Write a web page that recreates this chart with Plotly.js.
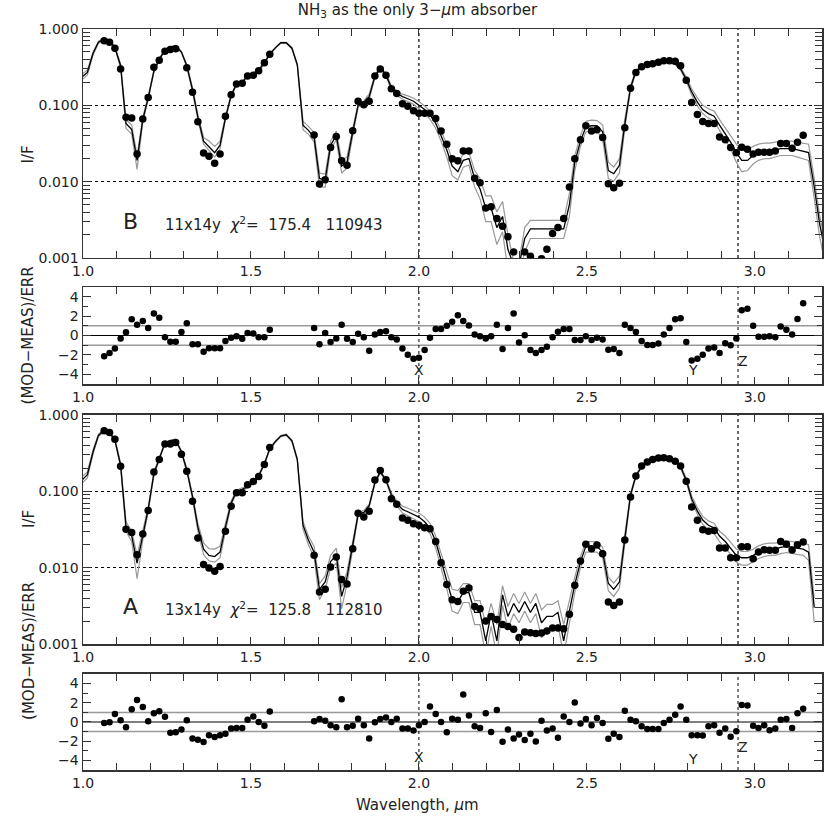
<!DOCTYPE html>
<html>
<head>
<meta charset="utf-8">
<script src="https://cdn.plot.ly/plotly-3.0.1.min.js"></script>
<style>html,body{margin:0;padding:0;background:#fff;}#chart{width:830px;height:830px;}</style>
</head>
<body>
<div id="chart"></div>
<script>
// Wavelength grid (micron)
const wl = [0.997,1.013,1.030,1.046,
1.063,1.079,1.095,1.112,1.128,1.145,1.161,1.178,1.194,1.211,
1.227,1.244,1.260,1.276,1.293,1.309,1.326,1.342,1.359,1.375,
1.392,1.408,1.424,1.441,1.457,1.474,1.490,1.507,1.523,1.540,
1.556,1.573,1.589,1.605,1.622,1.638,1.655,1.671,1.688,1.704,
1.721,1.737,1.754,1.770,1.786,1.803,1.819,1.836,1.852,1.869,
1.885,1.902,1.918,1.934,1.951,1.967,1.984,2.000,2.017,2.033,
2.050,2.066,2.083,2.099,2.116,2.132,2.149,2.166,2.182,2.199,
2.215,2.232,2.249,2.265,2.282,2.298,2.315,2.332,2.348,2.365,
2.381,2.398,2.414,2.431,2.448,2.464,2.481,2.497,2.514,2.530,
2.547,2.564,2.580,2.597,2.613,2.630,2.646,2.663,2.680,2.696,
2.713,2.729,2.746,2.763,2.779,2.796,2.812,2.829,2.845,2.862,
2.879,2.895,2.912,2.928,2.945,2.961,2.978,2.995,3.011,3.028,
3.044,3.061,3.077,3.094,3.111,3.127,3.144,3.160,3.177,3.193,
3.210];

// Panel B (11x14y) model, envelope and measurements (I/F)
const bModel = [0.235,0.27,0.48,0.67,
0.74,0.70,0.57,0.33,0.058,0.048,0.019,0.065,0.125,0.28,
0.40,0.53,0.58,0.60,0.50,0.33,0.16,0.07,0.034,0.029,
0.024,0.030,0.068,0.135,0.19,0.20,0.245,0.26,0.29,0.36,
0.47,0.57,0.66,0.66,0.56,0.34,0.055,0.047,0.038,0.011,
0.0105,0.030,0.040,0.016,0.018,0.045,0.10,0.11,0.13,0.24,
0.31,0.25,0.17,0.145,0.13,0.122,0.113,0.10,0.088,0.075,
0.058,0.040,0.026,0.016,0.0135,0.019,0.020,0.011,0.008,0.0045,
0.0045,0.0025,0.0035,0.0013,0.0008,0.0008,0.0018,0.0024,0.0024,0.0024,
0.0024,0.0024,0.0024,0.0024,0.005,0.018,0.034,0.052,0.054,0.054,
0.045,0.014,0.0127,0.0164,0.057,0.17,0.28,0.32,0.34,0.355,
0.37,0.375,0.37,0.35,0.30,0.22,0.15,0.11,0.088,0.078,
0.072,0.055,0.043,0.033,0.024,0.019,0.019,0.022,0.024,0.025,
0.025,0.026,0.027,0.027,0.027,0.026,0.025,0.024,0.0085,0.0028,
0.0012];
const bUpper = [0.255,0.29,0.50,0.69,
0.76,0.72,0.59,0.35,0.065,0.055,0.022,0.07,0.13,0.29,
0.41,0.54,0.59,0.61,0.51,0.34,0.17,0.075,0.038,0.034,
0.029,0.034,0.072,0.14,0.195,0.205,0.25,0.265,0.30,0.37,
0.48,0.58,0.67,0.67,0.57,0.35,0.062,0.053,0.044,0.013,
0.0125,0.034,0.046,0.019,0.021,0.05,0.105,0.115,0.14,0.25,
0.32,0.26,0.18,0.155,0.14,0.133,0.124,0.112,0.098,0.084,
0.066,0.046,0.031,0.020,0.017,0.023,0.024,0.014,0.011,0.0065,
0.0065,0.004,0.0055,0.002,0.0009,0.0009,0.0025,0.0031,0.0031,0.0031,
0.0031,0.0031,0.0031,0.0031,0.007,0.022,0.04,0.062,0.064,0.063,
0.055,0.018,0.0155,0.02,0.066,0.18,0.29,0.33,0.35,0.365,
0.38,0.385,0.38,0.36,0.315,0.235,0.165,0.125,0.10,0.09,
0.084,0.065,0.05,0.04,0.031,0.026,0.026,0.029,0.031,0.032,
0.032,0.033,0.034,0.034,0.034,0.033,0.032,0.031,0.011,0.0036,
0.0016];
const bLower = [0.215,0.25,0.46,0.65,
0.72,0.68,0.55,0.31,0.05,0.042,0.0145,0.06,0.12,0.27,
0.39,0.52,0.57,0.59,0.49,0.32,0.15,0.065,0.031,0.026,
0.021,0.027,0.065,0.13,0.185,0.195,0.24,0.255,0.28,0.35,
0.46,0.56,0.65,0.65,0.55,0.33,0.048,0.042,0.033,0.0085,
0.0085,0.027,0.035,0.013,0.015,0.04,0.095,0.105,0.12,0.23,
0.30,0.24,0.16,0.135,0.12,0.112,0.103,0.09,0.078,0.066,
0.05,0.034,0.021,0.012,0.0105,0.0155,0.0165,0.0085,0.006,0.003,
0.003,0.0015,0.0022,0.0007,0.0006,0.0006,0.0012,0.0018,0.0018,0.0018,
0.0018,0.0018,0.0018,0.0018,0.0035,0.014,0.029,0.045,0.046,0.046,
0.036,0.011,0.0102,0.013,0.05,0.16,0.27,0.31,0.33,0.345,
0.36,0.365,0.36,0.34,0.29,0.205,0.137,0.098,0.078,0.068,
0.062,0.047,0.036,0.027,0.018,0.0135,0.014,0.017,0.019,0.02,
0.02,0.021,0.022,0.022,0.022,0.021,0.020,0.019,0.006,0.0019,
0.0008];
const bMeas = [null,null,null,null,
0.70,0.67,0.56,0.30,0.070,0.068,0.023,0.066,0.127,0.315,
0.39,0.51,0.54,0.55,null,0.31,0.148,0.061,0.0238,0.0215,
0.0174,0.023,0.072,0.138,0.19,0.194,0.242,0.247,0.284,0.362,
0.466,null,null,null,null,null,null,null,0.041,0.0093,
0.0106,0.028,0.039,0.0188,0.0164,0.0466,0.113,0.102,0.113,0.242,
0.30,0.247,0.165,0.143,0.105,0.097,0.085,0.0785,0.0785,0.079,
0.067,0.046,0.031,0.020,0.0188,0.0252,0.0252,0.0111,0.0097,0.0045,
0.0047,0.0033,0.0026,0.0019,0.0012,0.0008,0.0012,0.00105,0.0008,0.00098,
0.0013,0.0021,0.0025,0.0033,0.0085,0.020,0.0355,0.054,0.046,0.048,
0.038,0.0094,0.0083,0.0095,0.051,0.167,0.27,0.32,0.342,0.35,
0.366,0.385,0.385,0.378,0.33,0.213,0.109,0.076,0.0615,0.058,
0.058,0.0385,0.0355,0.028,0.024,0.0283,0.0265,0.023,0.0243,0.0243,
0.0243,0.0252,0.0315,0.0315,0.0274,0.0328,0.0404,null,null,null,
null];
const bResid = [null,null,null,null,
-2.13,-1.8,-1.33,-0.3,0.33,1.67,1.1,1.5,0.77,2.27,
1.83,-0.17,-0.63,-0.63,0.37,1.27,-0.9,-0.9,-1.67,-1.3,
-1.3,-1.3,-0.57,-0.23,-0.07,-0.33,0.27,0.2,-0.17,-0.17,
0.6,null,null,null,null,null,null,null,0.77,-0.9,
0.27,-0.67,-0.3,1.1,-0.33,-0.67,0.17,-0.17,-1.57,0.1,
0.37,0.43,-0.17,-0.4,-1.33,-1.97,-2.4,-2.3,-1.5,-0.23,
0.67,0.67,1.0,1.43,2.1,1.5,1.03,0.1,-0.07,-0.3,
-0.07,1.1,-1.4,0.77,2.27,-0.73,0.03,-1.5,-1.8,-1.5,
-1.17,-0.17,0.4,0.67,0.67,-0.47,-0.47,-0.07,-0.47,-0.23,
-0.4,-1.47,-1.4,-1.8,1.1,0.77,0.37,-0.57,-0.97,-0.97,
-0.83,0.1,0.77,1.67,1.77,-0.67,-2.57,-2.4,-1.97,-1.33,
-1.23,-1.8,-0.8,-1.0,-0.3,2.6,2.77,1.0,-0.13,-0.13,
-0.07,-0.17,0.93,0.6,0.1,1.7,3.33,null,null,null,
null];

// Panel A (13x14y)
const aModel = [0.14,0.165,0.33,0.54,
0.63,0.59,0.47,0.22,0.035,0.026,0.0115,0.027,0.058,0.17,
0.27,0.43,0.46,0.47,0.33,0.19,0.085,0.034,0.0175,0.0145,
0.014,0.016,0.034,0.07,0.10,0.106,0.115,0.13,0.16,0.23,
0.36,0.45,0.53,0.55,0.46,0.26,0.036,0.023,0.016,0.0052,
0.0065,0.012,0.0145,0.0042,0.0075,0.02,0.05,0.053,0.065,0.13,
0.18,0.14,0.09,0.07,0.058,0.054,0.05,0.046,0.040,0.033,
0.022,0.0125,0.0068,0.0038,0.0036,0.0047,0.0047,0.0026,0.0026,0.0011,
0.0025,0.0011,0.0044,0.0023,0.0034,0.0026,0.0036,0.0026,0.0034,0.0019,
0.0023,0.0023,0.0026,0.0011,0.0027,0.006,0.012,0.019,0.019,0.019,
0.016,0.0062,0.0052,0.0065,0.024,0.09,0.16,0.21,0.24,0.26,
0.275,0.28,0.275,0.255,0.21,0.14,0.08,0.055,0.042,0.036,
0.033,0.026,0.022,0.018,0.0145,0.0135,0.0135,0.0145,0.016,0.017,
0.0175,0.0175,0.0185,0.019,0.0185,0.018,0.0175,0.016,0.003,null,
null];
const aUpper = [0.155,0.18,0.35,0.56,
0.65,0.61,0.49,0.235,0.04,0.03,0.0145,0.031,0.062,0.18,
0.28,0.44,0.47,0.48,0.34,0.20,0.09,0.038,0.021,0.0178,
0.0175,0.019,0.038,0.075,0.104,0.112,0.118,0.134,0.165,0.235,
0.37,0.46,0.54,0.56,0.47,0.27,0.04,0.026,0.019,0.0062,
0.0078,0.0145,0.018,0.0055,0.0088,0.022,0.053,0.056,0.068,0.135,
0.185,0.145,0.095,0.075,0.064,0.06,0.056,0.052,0.046,0.038,
0.026,0.015,0.0085,0.0052,0.005,0.0062,0.0062,0.0037,0.0037,0.0018,
0.0034,0.0018,0.0058,0.0031,0.0046,0.0034,0.0048,0.0034,0.0046,0.0028,
0.0033,0.0033,0.0037,0.0018,0.0037,0.0075,0.014,0.022,0.022,0.022,
0.0185,0.0075,0.0063,0.0078,0.027,0.095,0.165,0.215,0.245,0.265,
0.28,0.285,0.28,0.26,0.22,0.148,0.087,0.061,0.047,0.041,
0.038,0.03,0.026,0.0215,0.0175,0.0163,0.0163,0.0175,0.0193,0.0205,
0.021,0.021,0.022,0.0225,0.022,0.0215,0.021,0.02,0.004,null,
null];
const aLower = [0.128,0.15,0.31,0.52,
0.61,0.57,0.45,0.205,0.03,0.022,0.0072,0.023,0.054,0.16,
0.26,0.42,0.45,0.46,0.32,0.18,0.08,0.03,0.0148,0.0123,
0.0118,0.0135,0.03,0.066,0.096,0.1,0.112,0.126,0.155,0.225,
0.35,0.44,0.52,0.54,0.45,0.25,0.032,0.02,0.0135,0.0038,
0.0052,0.0098,0.0115,0.0029,0.0062,0.018,0.047,0.05,0.062,0.125,
0.175,0.135,0.085,0.065,0.052,0.048,0.044,0.04,0.034,0.028,
0.018,0.01,0.0053,0.0027,0.0025,0.0035,0.0035,0.0018,0.0018,0.0007,
0.0017,0.0007,0.0032,0.0016,0.0025,0.0019,0.0027,0.0019,0.0025,0.0012,
0.0016,0.0016,0.0018,0.0007,0.0019,0.0047,0.01,0.016,0.016,0.016,
0.0135,0.005,0.0042,0.0054,0.021,0.085,0.155,0.205,0.235,0.255,
0.27,0.275,0.27,0.25,0.20,0.132,0.074,0.05,0.037,0.031,
0.028,0.022,0.018,0.015,0.0118,0.0108,0.0108,0.012,0.0132,0.014,
0.0145,0.0145,0.0153,0.0158,0.0153,0.0148,0.0145,0.0125,0.0019,null,
null];
const aMeas = [null,null,null,null,
0.62,0.59,0.48,0.213,0.0318,0.0288,0.0148,0.0276,0.0563,0.179,
0.262,0.417,0.417,0.435,0.305,0.183,0.074,0.0245,0.011,0.0099,
0.0090,0.0104,0.030,0.064,0.096,0.096,0.122,0.135,0.157,0.224,
0.376,null,null,null,null,null,null,null,0.0145,0.0048,
0.0052,0.0102,0.0138,0.0070,0.0061,0.0177,0.0515,0.046,0.0547,0.141,
0.187,0.142,0.080,0.0676,0.0448,0.0417,0.0377,0.0359,0.0334,0.0324,
0.0221,0.0116,0.0060,0.0038,0.0036,0.0049,0.0054,0.0031,0.0029,0.0020,
0.0023,0.0021,0.0018,0.0017,0.00156,0.00122,0.00144,0.00141,0.00137,0.00139,
0.00148,0.00162,0.00162,0.00158,0.00245,0.0059,0.0122,0.0202,0.0177,0.0198,
0.0152,0.00355,0.0032,0.00355,0.023,0.0843,0.159,0.215,0.242,0.262,
0.273,0.276,0.268,0.247,0.215,0.136,0.0624,0.0417,0.0315,0.0299,
0.0308,0.0181,0.0181,0.0135,0.0135,0.0188,0.0188,0.0131,0.016,0.0172,
0.0169,0.0169,0.0221,0.0202,0.017,0.02,0.0217,null,null,null,
null];
const aResid = [null,null,null,null,
-0.1,-0.03,0.82,0.17,-0.55,1.33,2.29,1.57,0.07,0.92,
1.13,0.55,-1.13,-1.06,-0.79,0.17,-1.71,-1.85,-2.09,-1.37,
-1.57,-1.37,-1.23,-0.68,-0.62,-0.62,0.24,0.58,0,-0.38,
1.09,null,null,null,null,null,null,null,0.07,0.31,
0.14,-0.34,-0.55,2.36,-0.55,-0.38,0.34,-0.34,-1.71,-0.03,
0.31,0.48,0,0.34,-0.68,-0.68,-0.89,-0.34,0,1.61,
0.82,0,-1.06,0.34,0.24,2.87,0.68,-0.44,-0.62,0.92,
-1.03,1.26,-2.05,-0.79,-1.71,-1.3,-1.88,-1.23,-2.02,0.14,
-0.89,-0.68,-1.64,0.58,0,2.02,-0.17,0.31,-0.34,0.41,
-0.1,-1.74,-1.23,-1.57,1.16,0.24,0.07,-0.44,-0.72,-0.72,
-0.72,-0.1,0.24,0.75,1.61,0.24,-1.37,-1.37,-1.4,-0.44,
-0.34,-1.13,-0.68,-1.54,-0.96,1.78,1.71,-0.38,-0.62,-0.34,
-0.85,-0.68,0.24,0.31,-0.62,0.92,1.37,null,null,null,
null];

// Axis ticks and reference marks
const xTickVals = [1.0, 1.5, 2.0, 2.5, 3.0];
const xTickText = ['1.0', '1.5', '2.0', '2.5', '3.0'];
const yLogVals = [0.001, 0.01, 0.1, 1];
const yLogText = ['0.001', '0.010', '0.100', '1.000'];
const yLogMinor = [0.002,0.003,0.004,0.005,0.006,0.007,0.008,0.009,
  0.02,0.03,0.04,0.05,0.06,0.07,0.08,0.09,0.2,0.3,0.4,0.5,0.6,0.7,0.8,0.9];
const rTickVals = [-4, -2, 0, 2, 4];
const rTickText = ['\u22124', '\u22122', '0', '2', '4'];
const refWl = [2.0, 2.95];
const refLabels = ['X', 'Y', 'Z'];
const refLabelWl = [2.0, 2.815, 2.965];
const refLabelRes = [-3.6, -3.6, -2.6];

const FONT = 'DejaVu Sans';
const AX = '#333';
const GRAY = '#999999';

function lineTrace(y, color, xa, ya, w) {
  return {x: wl, y: y, xaxis: xa, yaxis: ya, type: 'scatter', mode: 'lines',
    line: {color: color, width: w}, connectgaps: false, hoverinfo: 'skip'};
}
function dotTrace(y, xa, ya, size) {
  return {x: wl, y: y, xaxis: xa, yaxis: ya, type: 'scatter', mode: 'markers',
    marker: {color: '#000', size: size}, hoverinfo: 'skip'};
}

const traces = [
  lineTrace(bUpper, GRAY, 'x', 'y', 1.2),
  lineTrace(bLower, GRAY, 'x', 'y', 1.2),
  lineTrace(bModel, '#000', 'x', 'y', 1.3),
  dotTrace(bMeas, 'x', 'y', 7.5),
  dotTrace(bResid, 'x2', 'y2', 6.5),
  lineTrace(aUpper, GRAY, 'x3', 'y3', 1.2),
  lineTrace(aLower, GRAY, 'x3', 'y3', 1.2),
  lineTrace(aModel, '#000', 'x3', 'y3', 1.3),
  dotTrace(aMeas, 'x3', 'y3', 7.5),
  dotTrace(aResid, 'x4', 'y4', 6.5)
];

function xAxis(anchor) {
  return {anchor: anchor, domain: [0, 1], range: [1.0, 3.2],
    tickmode: 'array', tickvals: xTickVals, ticktext: xTickText,
    ticks: 'inside', ticklen: 7, tickwidth: 1, tickcolor: AX,
    minor: {tick0: 1.0, dtick: 0.1, ticks: 'inside', ticklen: 7, tickwidth: 1, tickcolor: AX, showgrid: false},
    showline: true, linecolor: AX, linewidth: 1.5, mirror: 'allticks',
    showgrid: false, zeroline: false,
    tickfont: {family: FONT, size: 14, color: '#222'}};
}
function yLogAxis(anchor, dom) {
  return {anchor: anchor, domain: dom, type: 'log', range: [-3, 0],
    tickmode: 'array', tickvals: yLogVals, ticktext: yLogText,
    ticks: 'inside', ticklen: 8, tickwidth: 1, tickcolor: AX,
    minor: {tickmode: 'array', tickvals: yLogMinor, ticks: 'inside', ticklen: 7, tickwidth: 1, tickcolor: AX, showgrid: false},
    showline: true, linecolor: AX, linewidth: 1.5, mirror: 'allticks',
    showgrid: true, gridcolor: '#000', gridwidth: 1.2, griddash: 'dot', zeroline: false,
    tickfont: {family: FONT, size: 14, color: '#222'}};
}
function yResAxis(anchor, dom) {
  return {anchor: anchor, domain: dom, range: [-5, 5],
    tickmode: 'array', tickvals: rTickVals, ticktext: rTickText,
    ticks: 'inside', ticklen: 8, tickwidth: 1, tickcolor: AX,
    minor: {tick0: 0, dtick: 1, ticks: 'inside', ticklen: 5, tickwidth: 1, tickcolor: AX, showgrid: false},
    showline: true, linecolor: AX, linewidth: 1.5, mirror: 'allticks',
    showgrid: false, zeroline: false,
    tickfont: {family: FONT, size: 14, color: '#222'}};
}

const shapes = [];
// reference lines in residual panels (0 and +/-1)
[['x2','y2'],['x4','y4']].forEach(([xa, ya]) => {
  [[1, GRAY, 1.5], [-1, GRAY, 1.5], [0, '#000', 1.2]].forEach(([v, c, w]) => {
    shapes.push({type: 'line', xref: xa + ' domain', yref: ya, x0: 0, x1: 1, y0: v, y1: v,
      line: {color: c, width: w}, layer: 'below'});
  });
});
// vertical dotted reference wavelengths
[['x','y'],['x2','y2'],['x3','y3'],['x4','y4']].forEach(([xa, ya], i) => {
  refWl.forEach(w => {
    shapes.push({type: 'line', xref: xa, yref: ya + ' domain', x0: w, x1: w, y0: 0, y1: 1,
      line: {color: '#000', width: (i % 2 === 0) ? 1.2 : 1, dash: 'dot'}, layer: 'below'});
  });
});

const ann = [];
const tf = {family: FONT, size: 15, color: '#222'};
ann.push({xref: 'paper', yref: 'paper', x: -0.088, y: 0.8455, text: 'I/F', textangle: -90, showarrow: false, font: tf});
ann.push({xref: 'paper', yref: 'paper', x: -0.088, y: 0.324, text: 'I/F', textangle: -90, showarrow: false, font: tf});
ann.push({xref: 'paper', yref: 'paper', x: -0.088, y: 0.5864, text: '(MOD\u2212MEAS)/ERR', textangle: -90, showarrow: false, font: tf});
ann.push({xref: 'paper', yref: 'paper', x: -0.088, y: 0.0648, text: '(MOD\u2212MEAS)/ERR', textangle: -90, showarrow: false, font: tf});
ann.push({xref: 'paper', yref: 'paper', x: 0.4533, y: -0.047, xanchor: 'center', yanchor: 'middle',
  text: 'Wavelength, <i>\u03bc</i>m', showarrow: false, font: tf});
// panel labels
ann.push({xref: 'x', yref: 'y domain', x: 1.14, y: 0.096, text: 'B', showarrow: false, font: {family: FONT, size: 22, color: '#222'}});
ann.push({xref: 'x', yref: 'y domain', x: 1.238, y: 0.096, xanchor: 'left', showarrow: false, font: tf,
  text: '11x14y\u00a0\u00a0<i>\u03c7</i><sup>2</sup>=\u00a0\u00a0175.4\u00a0\u00a0\u00a0110943'});
ann.push({xref: 'x3', yref: 'y3 domain', x: 1.14, y: 0.10, text: 'A', showarrow: false, font: {family: FONT, size: 22, color: '#222'}});
ann.push({xref: 'x3', yref: 'y3 domain', x: 1.238, y: 0.10, xanchor: 'left', showarrow: false, font: tf,
  text: '13x14y\u00a0\u00a0<i>\u03c7</i><sup>2</sup>=\u00a0\u00a0125.8\u00a0\u00a0\u00a0112810'});
// X Y Z markers
[['x2','y2', 0], ['x4','y4', -0.3]].forEach(([xa, ya, dy]) => {
  refLabels.forEach((t, i) => {
    ann.push({xref: xa, yref: ya, x: refLabelWl[i], y: refLabelRes[i] + (i === 1 ? dy : 0), text: t, showarrow: false,
      font: {family: FONT, size: 14, color: '#222'}});
  });
});

const layout = {
  width: 830, height: 830,
  margin: {l: 83, r: 8, t: 29, b: 60},
  paper_bgcolor: '#fff', plot_bgcolor: '#fff',
  showlegend: false,
  title: {text: 'NH<sub>3</sub> as the only 3\u2212<i>\u03bc</i>m absorber', xref: 'container', yref: 'container',
    x: 0.503, y: 0.988, xanchor: 'center', yanchor: 'middle', font: {family: FONT, size: 15, color: '#222'}},
  xaxis: xAxis('y'), xaxis2: xAxis('y2'), xaxis3: xAxis('y3'), xaxis4: xAxis('y4'),
  yaxis: yLogAxis('x', [0.6910, 1.0]),
  yaxis2: yResAxis('x2', [0.5209, 0.6518]),
  yaxis3: yLogAxis('x3', [0.1700, 0.4791]),
  yaxis4: yResAxis('x4', [0.0, 0.1296]),
  shapes: shapes,
  annotations: ann
};

Plotly.newPlot('chart', traces, layout, {displayModeBar: false, staticPlot: true});
</script>
</body>
</html>
